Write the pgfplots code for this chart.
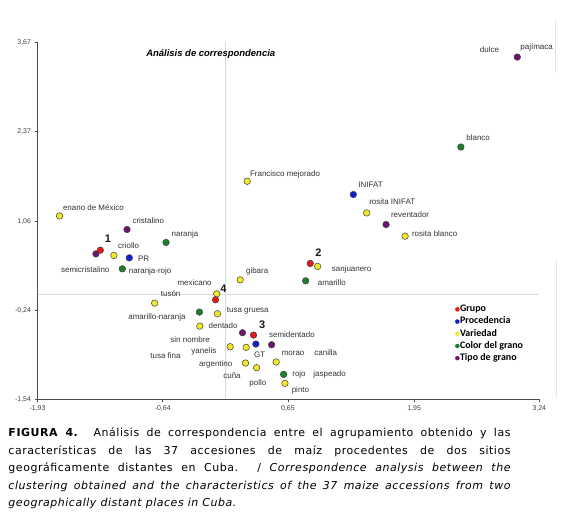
\documentclass[border=0pt]{standalone}
\usepackage{fontspec}
\setmainfont{Liberation Sans}
\newfontfamily\capfont[LetterSpace=5]{DejaVu Sans}
\newfontfamily\legfont{Carlito}
\usepackage{pgfplots}
\pgfplotsset{compat=1.18}
\definecolor{ptred}{RGB}{230,25,25}
\definecolor{ptblue}{RGB}{15,30,210}
\definecolor{ptyellow}{RGB}{240,232,40}
\definecolor{ptgreen}{RGB}{25,130,40}
\definecolor{ptpurple}{RGB}{110,20,110}
\tikzset{
  lab/.style={font=\fontsize{8}{9}\selectfont, text=black!80, inner sep=0pt, text height=6bp, text depth=0.5bp},
  num/.style={font=\bfseries\fontsize{11}{12}\selectfont, text=black!90, inner sep=0pt, text height=8bp, text depth=0bp},
}
\pgfplotsset{
  pts/.style={only marks, mark=*, mark size=3.3pt, mark options={draw=black!75, line width=0.5bp, fill=#1}, forget plot},
}
\begin{document}
\begin{tikzpicture}
\path[use as bounding box] (0,0) rectangle (574bp,522bp);
\begin{axis}[
  at={(37.5bp,122.5bp)}, anchor=south west,
  scale only axis, width=501.8bp, height=357bp,
  xmin=-1.93, xmax=3.24, ymin=-1.54, ymax=3.67,
  axis lines*=left,
  axis line style={black!70, line width=0.6bp},
  xtick={-1.93,-0.64,0.65,1.95,3.24},
  xticklabels={{-1,93},{-0,64},{0,65},{1,95},{3,24}},
  ytick={-1.54,-0.24,1.06,2.37,3.67},
  yticklabels={{-1,54},{-0,24},{1,06},{2,37},{3,67}},
  tick align=outside, major tick length=3bp,
  tick style={black!70, line width=0.5bp},
  tick label style={font=\fontsize{7}{8}\selectfont, text=black!75},
  clip=false,
  legend cell align=left,
  legend image code/.code={\fill[#1] (0bp,0bp) circle (2bp);},
  legend style={at={(axis cs:2.373,-0.148)}, anchor=north west, draw=none, fill=none,
    inner sep=0pt, outer sep=0pt, row sep=1.7bp,
    font=\legfont\bfseries\fontsize{10}{11}\selectfont,
    nodes={inner sep=0.5bp, text height=7bp, text depth=2.5bp},
    /tikz/every even column/.append style={column sep=2bp}},
]
% zero lines
\addplot[black!15, line width=0.6bp, forget plot] coordinates {(0,-1.54) (0,3.67)};
\addplot[black!15, line width=0.6bp, forget plot] coordinates {(-1.93,0) (3.24,0)};

% Variedad (yellow)
\addplot[pts=ptyellow] coordinates {
(-1.703,1.139) (0.230,1.645) (1.462,1.183) (1.857,0.843) (-1.143,0.562)
(0.158,0.206) (-0.083,0.002) (-0.723,-0.133) (-0.076,-0.289) (-0.258,-0.469)
(0.055,-0.770) (0.220,-0.779) (0.213,-1.008) (0.327,-1.076) (0.529,-0.993)
(0.619,-1.304) (0.956,0.402)
};
% Color del grano (green)
\addplot[pts=ptgreen] coordinates {
(-0.606,0.752) (-1.056,0.367) (-0.262,-0.264) (0.606,-1.173) (0.833,0.192) (2.432,2.145)
};
% Tipo de grano (purple)
\addplot[pts=ptpurple] coordinates {
(-1.008,0.941) (-1.328,0.585) (0.182,-0.566) (0.482,-0.741) (1.661,1.014) (3.013,3.457)
};
% Procedencia (blue)
\addplot[pts=ptblue] coordinates {
(-0.984,0.527) (0.320,-0.731) (1.324,1.451)
};
% Grupo (red)
\addplot[pts=ptred] coordinates {
(-1.283,0.639) (0.880,0.445) (0.296,-0.600) (-0.096,-0.085)
};

\addlegendimage{ptred}\addlegendentry{Grupo}
\addlegendimage{ptblue}\addlegendentry{Procedencia}
\addlegendimage{ptyellow}\addlegendentry{Variedad}
\addlegendimage{ptgreen}\addlegendentry{Color del grano}
\addlegendimage{ptpurple}\addlegendentry{Tipo de grano}

% title
\node[font=\bfseries\itshape\fontsize{9.5}{11}\selectfont, inner sep=0pt, text height=7bp, text depth=0bp] at (axis cs:-0.145,3.515) {Análisis de correspondencia};

% labels (west)
\node[lab, anchor=west] at (axis cs:-1.669,1.256) {enano de México};
\node[lab, anchor=west] at (axis cs:-0.953,1.062) {cristalino};
\node[lab, anchor=west] at (axis cs:0.258,1.757) {Francisco mejorado};
\node[lab, anchor=west] at (axis cs:3.044,3.603) {pajímaca};
\node[lab, anchor=west] at (axis cs:2.487,2.282) {blanco};
\node[lab, anchor=west] at (axis cs:1.375,1.587) {INIFAT};
\node[lab, anchor=west] at (axis cs:1.486,1.343) {rosita INIFAT};
\node[lab, anchor=west] at (axis cs:1.710,1.160) {reventador};
\node[lab, anchor=west] at (axis cs:1.927,0.883) {rosita blanco};
\node[lab, anchor=west] at (axis cs:-0.550,0.883) {naranja};
\node[lab, anchor=west] at (axis cs:-1.101,0.698) {criollo};
\node[lab, anchor=west] at (axis cs:-0.895,0.518) {PR};
\node[lab, anchor=west] at (axis cs:-0.991,0.333) {naranja-rojo};
\node[lab, anchor=west] at (axis cs:0.217,0.338) {gibara};
\node[lab, anchor=west] at (axis cs:-0.661,-0.002) {tusón};
\node[lab, anchor=west] at (axis cs:0.020,-0.235) {tusa gruesa};
\node[lab, anchor=west] at (axis cs:-0.168,-0.469) {dentado};
\node[lab, anchor=west] at (axis cs:0.454,-0.600) {semidentado};
\node[lab, anchor=west] at (axis cs:0.299,-0.881) {GT};
\node[lab, anchor=west] at (axis cs:0.251,-1.292) {pollo};
\node[lab, anchor=west] at (axis cs:0.585,-0.858) {morao};
\node[lab, anchor=west] at (axis cs:0.921,-0.858) {canilla};
\node[lab, anchor=west] at (axis cs:0.694,-1.168) {rojo};
\node[lab, anchor=west] at (axis cs:0.911,-1.158) {jaspeado};
\node[lab, anchor=west] at (axis cs:0.688,-1.391) {pinto};
\node[lab, anchor=west] at (axis cs:1.101,0.362) {sanjuanero};
\node[lab, anchor=west] at (axis cs:0.956,0.163) {amarillo};
% labels (center)
\node[lab] at (axis cs:2.727,3.569) {dulce};
% labels (east)
\node[lab, anchor=east] at (axis cs:-1.187,0.358) {semicristalino};
\node[lab, anchor=east] at (axis cs:-0.134,0.168) {mexicano};
\node[lab, anchor=east] at (axis cs:-0.403,-0.333) {amarillo-naranja};
\node[lab, anchor=east] at (axis cs:-0.152,-0.662) {sin nombre};
\node[lab, anchor=east] at (axis cs:-0.086,-0.833) {yanelis};
\node[lab, anchor=east] at (axis cs:-0.454,-0.906) {tusa fina};
\node[lab, anchor=east] at (axis cs:0.079,-1.023) {argentino};
\node[lab, anchor=east] at (axis cs:0.165,-1.197) {cuña};
% group numbers
\node[num] at (axis cs:-1.205,0.810) {1};
\node[num] at (axis cs:0.963,0.600) {2};
\node[num] at (axis cs:0.385,-0.439) {3};
\node[num] at (axis cs:-0.014,0.081) {4};
\end{axis}
% faint frame remnants
\draw[black!10, line width=0.6bp] (555.7bp,502bp) -- (555.7bp,449bp);
\draw[black!10, line width=0.6bp] (556bp,262bp) -- (556bp,125bp);
% caption
\node[anchor=base west, inner sep=0pt] at (8.3bp,85.3bp) {\parbox[t]{502bp}{\capfont\fontsize{11}{17.6}\selectfont
\textbf{FIGURA 4.} Análisis de correspondencia entre el agrupamiento obtenido y las\linebreak
características de las 37 accesiones de maíz procedentes de dos sitios\linebreak
geográficamente distantes en Cuba. / \textit{Correspondence analysis between the\linebreak
clustering obtained and the characteristics of the 37 maize accessions from two\linebreak
geographically distant places in Cuba.}}};
\end{tikzpicture}
\end{document}
